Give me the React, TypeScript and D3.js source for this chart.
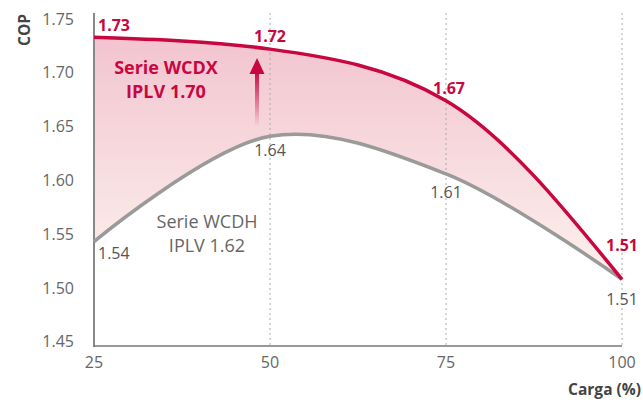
import React from 'react';
import * as d3 from 'd3';

const loads = [25, 50, 75, 100];
const wcdx = [1.733, 1.722, 1.674, 1.508];
const wcdh = [1.543, 1.641, 1.606, 1.508];
const wcdxLabels = ['1.73', '1.72', '1.67', '1.51'];
const wcdhLabels = ['1.54', '1.64', '1.61', '1.51'];
const yTicks = [1.45, 1.5, 1.55, 1.6, 1.65, 1.7, 1.75];

const RED = '#c8063f';
const GREY = '#9a9a9a';
const FONT = "'Open Sans', sans-serif";

export default function App() {
  const x = d3.scaleLinear([25, 100], [94, 622]);
  const y = d3.scaleLinear([1.45, 1.75], [341.7, 19]);
  const axisY = y(1.446);

  const pts = loads.map((l, i) => ({ l, top: wcdx[i], bot: wcdh[i] }));

  // upper line keeps its corner at 75, lower one is a smooth arc
  const redLine = d3.line<any>().x((d) => x(d.l)).y((d) => y(d.top)).curve(d3.curveMonotoneX);
  const greyLine = d3.line<any>().x((d) => x(d.l)).y((d) => y(d.bot)).curve(d3.curveCatmullRom);

  const redPath = redLine(pts) as string;
  const greyPath = greyLine(pts) as string;
  // band between the two curves: red forward, grey backwards
  const greyBack = greyLine([...pts].reverse()) as string;
  const bandPath = redPath + 'L' + greyBack.slice(1) + 'Z';

  const arrowX = x(50) - 13;

  return (
    <svg width={643} height={403} style={{ position: 'absolute', left: 0, top: 0 }} fontFamily={FONT}>
      <defs>
        <linearGradient id="band" x1="0" y1="0" x2="0" y2="1">
          <stop offset="0%" stopColor="#f2c4d0" />
          <stop offset="100%" stopColor="#fcf1ec" />
        </linearGradient>
        <linearGradient id="shaft" x1="0" y1="0" x2="0" y2="1">
          <stop offset="0%" stopColor={RED} />
          <stop offset="100%" stopColor={RED} stopOpacity={0} />
        </linearGradient>
      </defs>

      <path d={bandPath} fill="url(#band)" />

      {loads.slice(1).map((l) => (
        <line key={l} x1={x(l)} x2={x(l)} y1={13} y2={axisY} stroke="#aaa" strokeWidth={1} strokeDasharray="2,3" />
      ))}

      <line x1={x(25)} x2={x(25)} y1={13} y2={axisY + 1} stroke="#888" strokeWidth={2} />
      <line x1={x(25)} x2={x(100)} y1={axisY} y2={axisY} stroke="#777" strokeWidth={1.5} />

      {yTicks.map((t) => (
        <text key={t} x={74} y={y(t)} dy="0.35em" textAnchor="end" fontSize={16} fill="#666">
          {t.toFixed(2)}
        </text>
      ))}
      {loads.map((l) => (
        <text key={l} x={x(l)} y={362} dy="0.35em" textAnchor="middle" fontSize={16} fill="#666">
          {l}
        </text>
      ))}
      <text x={641} y={390} dy="0.35em" textAnchor="end" fontSize={15.5} fontWeight="bold" fill="#444">
        Carga (%)
      </text>
      <text transform="translate(25,30) rotate(-90)" dy="0.35em" textAnchor="middle" fontSize={15.5} fontWeight="bold" fill="#444">
        COP
      </text>

      <path d={greyPath} fill="none" stroke={GREY} strokeWidth={3.5} />
      <path d={redPath} fill="none" stroke={RED} strokeWidth={3.5} />

      <rect x={arrowX - 2} y={70} width={4} height={y(1.65) - 70} fill="url(#shaft)" />
      <path d={`M${arrowX},58L${arrowX + 7.5},74L${arrowX - 7.5},74Z`} fill={RED} />

      <text x={166} y={68} dy="0.35em" textAnchor="middle" fontSize={18} fontWeight="bold" fill={RED}>
        Serie WCDX
      </text>
      <text x={166} y={92} dy="0.35em" textAnchor="middle" fontSize={18} fontWeight="bold" fill={RED}>
        IPLV 1.70
      </text>
      <text x={207} y={222} dy="0.35em" textAnchor="middle" fontSize={18} fill="#666">
        Serie WCDH
      </text>
      <text x={207} y={246} dy="0.35em" textAnchor="middle" fontSize={18} fill="#666">
        IPLV 1.62
      </text>

      {wcdxLabels.map((s, i) => {
        const pos = [
          { dx: 4, dy: -12, a: 'start' },
          { dx: 0, dy: -13, a: 'middle' },
          { dx: 3, dy: -12, a: 'middle' },
          { dx: 0, dy: -34, a: 'middle' },
        ][i];
        return (
          <text key={'r' + i} x={x(loads[i]) + pos.dx} y={y(wcdx[i]) + pos.dy} dy="0.35em" textAnchor={pos.a} fontSize={16} fontWeight="bold" fill={RED}>
            {s}
          </text>
        );
      })}
      {wcdhLabels.map((s, i) => {
        const pos = [
          { dx: 4, dy: 12, a: 'start' },
          { dx: 0, dy: 14, a: 'middle' },
          { dx: 0, dy: 19, a: 'middle' },
          { dx: 0, dy: 20, a: 'middle' },
        ][i];
        return (
          <text key={'g' + i} x={x(loads[i]) + pos.dx} y={y(wcdh[i]) + pos.dy} dy="0.35em" textAnchor={pos.a} fontSize={16} fill="#555">
            {s}
          </text>
        );
      })}
    </svg>
  );
}
